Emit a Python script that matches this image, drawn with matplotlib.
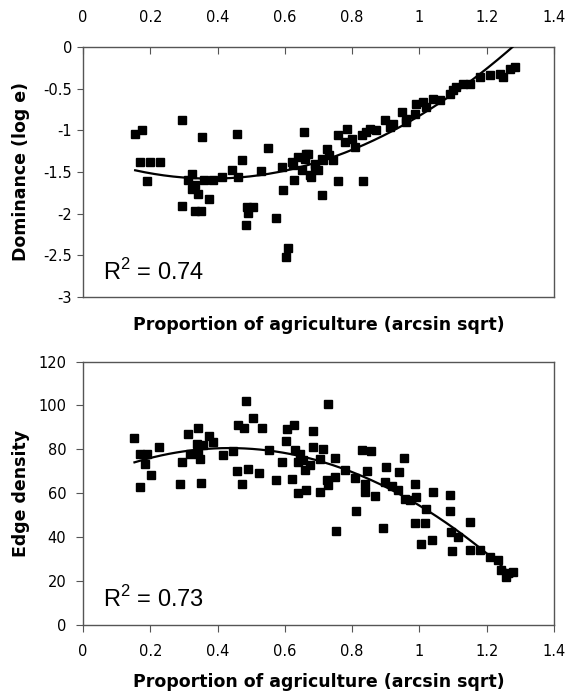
import numpy as np
import matplotlib
matplotlib.use('Agg')
import matplotlib.pyplot as plt

plt.rcParams['font.family'] = ['DejaVu Sans']
plt.rcParams['axes.unicode_minus'] = False
plt.rcParams['mathtext.fontset'] = 'custom'
plt.rcParams['mathtext.rm'] = 'Liberation Sans'

# ---- datos panel superior: dominancia ----
dom_x = [0.155, 0.174, 0.293, 0.354, 0.457, 0.657, 0.55, 0.169, 0.199, 0.229,
         0.189, 0.323, 0.313, 0.333, 0.323, 0.342, 0.374, 0.295, 0.333, 0.352,
         0.36, 0.387, 0.414, 0.443, 0.461, 0.473, 0.486, 0.506, 0.491, 0.484,
         0.575, 0.529, 0.595, 0.59, 0.61, 0.602, 0.627, 0.62, 0.64, 0.669,
         0.65, 0.677, 0.689, 0.709, 0.709, 0.758, 0.833, 0.625, 0.664, 0.674,
         0.699, 0.724, 0.714, 0.744, 0.758, 0.785, 0.778, 0.808, 0.828, 0.852,
         0.872, 0.897, 0.912, 0.947, 0.961, 0.991, 1.011, 1.04, 0.986, 1.09,
         1.11, 1.13, 1.15, 1.18, 1.209, 1.238, 1.268, 1.283, 1.248, 0.80,
         0.84, 0.92, 0.96, 1.02, 1.06, 1.10, 0.69, 0.73, 0.66]
dom_y = [-1.04, -1.00, -0.88, -1.08, -1.05, -1.02, -1.21, -1.38, -1.38, -1.38,
         -1.61, -1.52, -1.60, -1.66, -1.70, -1.76, -1.83, -1.91, -1.97, -1.97,
         -1.60, -1.60, -1.56, -1.48, -1.56, -1.36, -1.92, -1.92, -1.99, -2.14,
         -2.05, -1.49, -1.72, -1.44, -2.41, -2.52, -1.60, -1.38, -1.32, -1.28,
         -1.48, -1.56, -1.46, -1.34, -1.78, -1.61, -1.61, -1.42, -1.28, -1.54,
         -1.48, -1.22, -1.36, -1.36, -1.06, -0.98, -1.14, -1.20, -1.06, -0.98,
         -1.00, -0.88, -0.96, -0.78, -0.90, -0.68, -0.66, -0.62, -0.80, -0.56,
         -0.48, -0.44, -0.44, -0.36, -0.34, -0.32, -0.26, -0.24, -0.36, -1.10,
         -1.02, -0.92, -0.86, -0.72, -0.64, -0.52, -1.40, -1.30, -1.35]

# ---- datos panel inferior: densidad de borde ----
edge_x = [0.153, 0.169, 0.189, 0.184, 0.202, 0.169, 0.226, 0.293, 0.288, 0.313,
          0.341, 0.338, 0.357, 0.318, 0.342, 0.347, 0.352, 0.374, 0.387, 0.415,
          0.447, 0.458, 0.489, 0.473, 0.483, 0.461, 0.479, 0.506, 0.533, 0.524,
          0.552, 0.575, 0.59, 0.605, 0.627, 0.603, 0.622, 0.63, 0.645, 0.64,
          0.654, 0.659, 0.674, 0.638, 0.664, 0.684, 0.684, 0.704, 0.704, 0.729,
          0.714, 0.748, 0.724, 0.729, 0.748, 0.778, 0.808, 0.753, 0.811, 0.828,
          0.857, 0.843, 0.838, 0.838, 0.869, 0.892, 0.902, 0.897, 0.917, 0.94,
          0.953, 0.937, 0.956, 0.971, 0.991, 0.986, 1.019, 0.986, 1.016, 1.006,
          1.036, 1.039, 1.09, 1.09, 1.095, 1.115, 1.097, 1.149, 1.149, 1.179,
          1.209, 1.233, 1.243, 1.263, 1.278, 1.258]
edge_y = [85.1, 78, 78, 73.2, 68.2, 62.9, 81.1, 74.2, 64.0, 87.1,
          89.9, 82.6, 81.8, 78, 78, 75.8, 64.7, 85.9, 83.3, 77.3,
          79.1, 70.1, 71.2, 64.0, 102, 91.2, 89.9, 94.2, 89.9, 69.0,
          79.5, 65.9, 74.2, 89.4, 91.2, 83.8, 66.7, 79.5, 78, 74.2,
          75, 70.5, 72.7, 59.9, 61.7, 88.2, 81.1, 75.8, 60.6, 100.8,
          80.3, 76, 65.9, 63.6, 67.4, 70.8, 67.1, 42.9, 52, 79.8,
          79.1, 70.1, 64.4, 60.6, 58.6, 44.2, 72, 65.1, 63.2, 69.7,
          76.1, 61.4, 57.6, 56.8, 58.3, 64.1, 53, 46.5, 46.5, 36.7,
          38.6, 60.6, 59.1, 52, 42.4, 40.2, 33.8, 47, 34.1, 34.1,
          30.8, 29.5, 25, 23.5, 24.2, 22]

# coeficientes de las lineas de tendencia (polinomio grado 2)
trend_dom = [1.966, -1.496, -1.295]
trend_edge = [-81.9, 71.2, 65.1]

x_ticks = [0, 0.2, 0.4, 0.6, 0.8, 1, 1.2, 1.4]
x_labels = ['0', '0.2', '0.4', '0.6', '0.8', '1', '1.2', '1.4']
dom_ticks = [0, -0.5, -1, -1.5, -2, -2.5, -3]
dom_labels = ['0', '-0.5', '-1', '-1.5', '-2', '-2.5', '-3']
edge_ticks = [0, 20, 40, 60, 80, 100, 120]

fig = plt.figure(figsize=(5.67, 6.96), dpi=100)
ax1 = fig.add_axes([0.1464, 0.5733, 0.8307, 0.3592])
ax2 = fig.add_axes([0.1464, 0.1020, 0.8307, 0.3786])

borde = '#555555'
xlab = 'Proportion of agriculture (arcsin sqrt)'

def linea_tendencia(ax, x, coef):
    xs = np.linspace(min(x), max(x), 200)
    ax.plot(xs, np.polyval(coef, xs), color='black', lw=1.6, zorder=3)

# panel superior
ax1.plot(dom_x, dom_y, 's', color='black', ms=5.3, zorder=2)
linea_tendencia(ax1, dom_x, trend_dom)
ax1.set_xlim(0, 1.4)
ax1.set_ylim(-3, 0)
ax1.xaxis.tick_top()
ax1.set_xticks(x_ticks)
ax1.set_xticklabels(x_labels)
ax1.set_yticks(dom_ticks)
ax1.set_yticklabels(dom_labels)
ax1.tick_params(axis='x', direction='in', length=5, labelsize=10.5, pad=16, color=borde)
ax1.tick_params(axis='y', direction='out', length=4, labelsize=10.5, pad=4, color=borde)
ax1.set_xlabel(xlab, fontsize=12.5, fontweight='bold', va='center')
ax1.xaxis.set_label_position('bottom')
ax1.xaxis.set_label_coords(0.5, (297 - 316) / 250.0)
ax1.set_ylabel('Dominance (log e)', fontsize=12.5, fontweight='bold', va='center')
ax1.yaxis.set_label_coords((21 - 83) / 471.0, 0.5)
ax1.text(0.043, 0.07, 'R$^{\\mathrm{2}}$ = 0.74', transform=ax1.transAxes,
         fontsize=17, family='Liberation Sans')

# panel inferior
ax2.plot(edge_x, edge_y, 's', color='black', ms=5.3, zorder=2)
linea_tendencia(ax2, edge_x, trend_edge)
ax2.set_xlim(0, 1.4)
ax2.set_ylim(0, 120)
ax2.set_xticks(x_ticks)
ax2.set_xticklabels(x_labels)
ax2.set_yticks(edge_ticks)
ax2.tick_params(axis='x', direction='out', length=5, labelsize=10.5, pad=9, color=borde)
ax2.tick_params(axis='y', direction='out', length=5, labelsize=10.5, pad=7, color=borde)
ax2.set_xlabel(xlab, fontsize=12.5, fontweight='bold', va='center')
ax2.xaxis.set_label_coords(0.5, (625 - 682) / 264.0)
ax2.set_ylabel('Edge density', fontsize=12.5, fontweight='bold', va='center')
ax2.yaxis.set_label_coords((21 - 83) / 471.0, 0.5)
ax2.text(0.043, 0.07, 'R$^{\\mathrm{2}}$ = 0.73', transform=ax2.transAxes,
         fontsize=17, family='Liberation Sans')

for ax in (ax1, ax2):
    for s in ax.spines.values():
        s.set_color(borde)
        s.set_linewidth(1.0)

fig.savefig('out.png', dpi=100)
